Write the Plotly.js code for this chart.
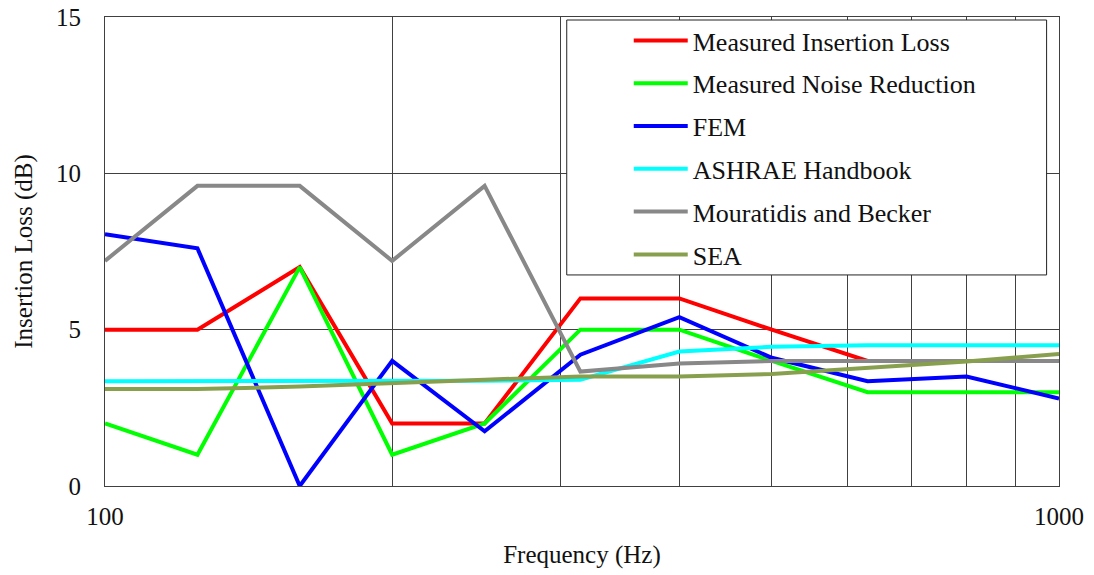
<!DOCTYPE html>
<html><head><meta charset="utf-8">
<script src="https://cdn.plot.ly/plotly-3.0.1.min.js"></script>
<style>html,body{margin:0;padding:0;background:#fff}#chart{width:1094px;height:575px}</style>
</head><body><div id="chart"></div>
<script>
const frequencies = [100, 125, 160, 200, 250, 315, 400, 500, 630, 800, 1000];
const measuredInsertionLoss = [5, 5, 7, 2, 2, 6, 6, 5, 4, 4, 4];
const measuredNoiseReduction = [2, 1, 7, 1, 2, 5, 5, 4, 3, 3, 3];
const femValues = [8.05, 7.6, 0, 4.0, 1.75, 4.2, 5.4, 4.1, 3.35, 3.5, 2.8];
const ashraeValues = [3.35, 3.35, 3.35, 3.35, 3.37, 3.4, 4.3, 4.45, 4.5, 4.5, 4.5];
const mouratidisValues = [7.2, 9.6, 9.6, 7.2, 9.6, 3.66, 3.92, 4.0, 4.0, 4.0, 4.0];
const seaValues = [3.1, 3.1, 3.18, 3.3, 3.4, 3.5, 3.5, 3.58, 3.77, 3.98, 4.22];

const seriesNames = ["Measured Insertion Loss", "Measured Noise Reduction", "FEM", "ASHRAE Handbook", "Mouratidis and Becker", "SEA"];
const seriesValues = [measuredInsertionLoss, measuredNoiseReduction, femValues, ashraeValues, mouratidisValues, seaValues];
const seriesColors = ["#FF0000", "#00FF00", "#0000FF", "#00FFFF", "#888888", "#88A04E"];

const xTickVals = [100, 200, 300, 400, 500, 600, 700, 800, 900, 1000];
const xTickText = ["100", "", "", "", "", "", "", "", "", "1000"];
const yTickVals = [0, 5, 10, 15];

const serif = 'Times New Roman, Liberation Serif, Tinos, DejaVu Serif, serif';

const traces = seriesNames.map((name, i) => ({
  type: 'scatter', mode: 'lines', name: name,
  x: frequencies, y: seriesValues[i],
  legendgroup: 'g' + i,
  line: {color: seriesColors[i], width: 4, shape: 'linear'}
}));

const layout = {
  width: 1094, height: 575,
  margin: {l: 105, r: 35, t: 17, b: 89},
  paper_bgcolor: '#fff', plot_bgcolor: '#fff',
  font: {family: serif, color: '#111', size: 25},
  showlegend: true,
  legend: {
    x: 0.549, y: 1.0, xanchor: 'left', yanchor: 'top',
    bgcolor: 'rgba(0,0,0,0)', borderwidth: 0,
    font: {family: serif, size: 26, color: '#111'},
    tracegroupgap: 6, itemwidth: 54
  },
  xaxis: {
    type: 'log', range: [2, 3],
    tickvals: xTickVals, ticktext: xTickText,
    ticks: '', showgrid: true, gridcolor: '#404040', gridwidth: 1,
    showline: true, linecolor: '#404040', linewidth: 1, mirror: true,
    zeroline: false, ticklabelstandoff: 8,
    tickfont: {family: serif, size: 25, color: '#111'},
    title: {text: 'Frequency (Hz)', font: {family: serif, size: 25, color: '#111'}, standoff: 16}
  },
  yaxis: {
    range: [0, 15], tickvals: yTickVals,
    ticks: '', showgrid: true, gridcolor: '#404040', gridwidth: 1,
    showline: true, linecolor: '#404040', linewidth: 1, mirror: true,
    zeroline: false, ticklabelstandoff: 18,
    tickfont: {family: serif, size: 25, color: '#111'},
    title: {text: 'Insertion Loss (dB)', font: {family: serif, size: 25, color: '#111'}, standoff: 16}
  },
  shapes: [{
    type: 'rect', xref: 'paper', yref: 'paper', layer: 'above',
    x0: 0.484, x1: 0.987, y0: 0.45, y1: 0.9936,
    fillcolor: '#fff', line: {color: '#222', width: 1}
  }]
};

Plotly.newPlot('chart', traces, layout, {displayModeBar: false, staticPlot: true});
</script>
</body></html>
